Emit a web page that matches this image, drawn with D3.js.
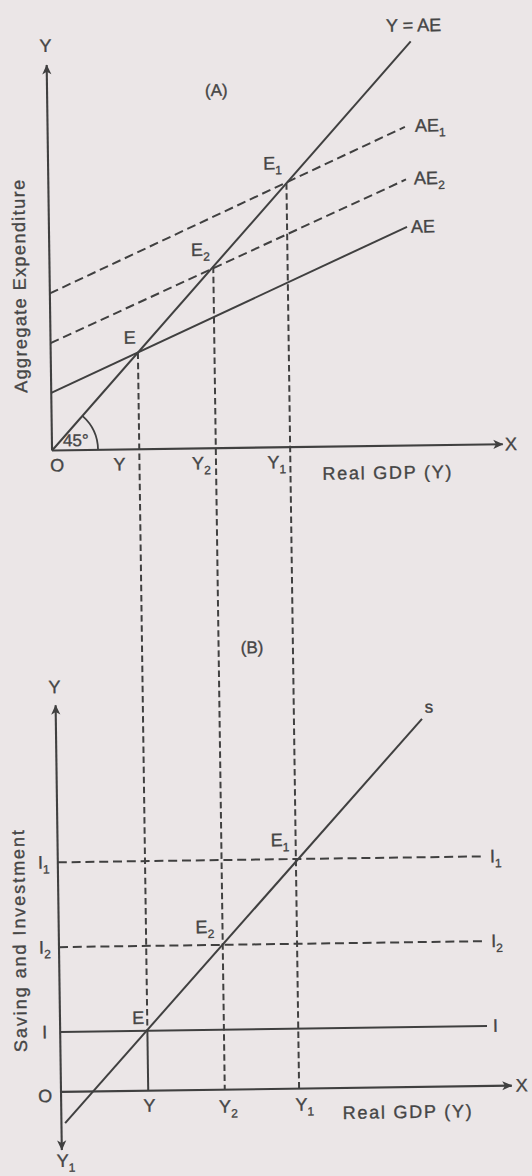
<!DOCTYPE html>
<html>
<head>
<meta charset="utf-8">
<script src="https://cdn.jsdelivr.net/npm/d3@7"></script>
<style>
  html, body { margin: 0; padding: 0; background: #ebe6e7; }
  svg { display: block; }
  text { font-family: "Liberation Sans", Arial, Helvetica, sans-serif; fill: #454545; stroke: #454545; stroke-width: 0.35px; }
</style>
</head>
<body>
<svg id="chart" width="532" height="1176"></svg>
<script>
// ---- data (model units) ----
// Equilibrium real GDP levels: Y, Y2, Y1
const equilibriumGDP = [2.37, 4.45, 6.47];
const levelSubscripts = ["", "2", "1"];

// Panel A: aggregate expenditure schedules (endpoints)
const incomeLine  = [[0, 0], [9.9, 9.9]];        // Y = AE
const aeSchedule  = [[0, 1.41], [9.73, 5.36]];   // AE
const aeSchedule2 = [[0, 2.63], [9.72, 6.52]];   // AE2
const aeSchedule1 = [[0, 3.85], [9.71, 7.81]];   // AE1
const aeLabels = ["AE", "AE", "AE"];
const aeSubscripts = ["", "2", "1"];

// Panel B: saving schedule and investment levels I, I2, I1
const savingSchedule = [[0.1, -0.78], [9.95, 9.2]];
const investmentLevels = [1.5, 3.62, 5.74];
const investmentEnds = [11.6, 11.5, 11.5];

const axisTitleA = "Aggregate Expenditure";
const axisTitleB = "Saving and Investment";
const gdpTitle = "Real GDP (Y)";
const panelTitles = ["(A)", "(B)"];

// ---- scales ----
const xDomainMax = 12.25;
const xs = d3.scaleLinear().domain([0, xDomainMax]).range([54, 504.8]);
const yA = d3.scaleLinear().domain([0, 9.45]).range([447.5, 61.9]);
const yB = d3.scaleLinear().domain([-1.45, 9.67]).range([1147, 702.2]);

const ink = "#404040";
const svg = d3.select("#chart");

const defs = svg.append("defs");
defs.append("marker")
  .attr("id", "arrow")
  .attr("viewBox", "0 -5 10 10")
  .attr("refX", 9.5).attr("refY", 0)
  .attr("markerUnits", "userSpaceOnUse")
  .attr("markerWidth", 11).attr("markerHeight", 10)
  .attr("orient", "auto-start-reverse")
  .append("path")
  .attr("d", "M0,-4.6L10,0L0,4.6L2.6,0Z")
  .attr("fill", ink);

// the whole drawing sits slightly tilted on the page
const g = svg.append("g").attr("transform", "rotate(-0.8,266,588)");

function seg(x1, y1, x2, y2, opts = {}) {
  const l = g.append("line")
    .attr("x1", x1).attr("y1", y1).attr("x2", x2).attr("y2", y2)
    .attr("stroke", ink).attr("stroke-width", opts.w || 2);
  if (opts.dash) l.attr("stroke-dasharray", opts.dash);
  if (opts.end) l.attr("marker-end", "url(#arrow)");
  if (opts.start) l.attr("marker-start", "url(#arrow)");
  return l;
}

function label(x, y, main, sub, anchor, size) {
  const t = g.append("text")
    .attr("x", x).attr("y", y)
    .attr("text-anchor", anchor || "start")
    .attr("font-size", size || 18);
  t.append("tspan").text(main);
  if (sub) t.append("tspan").attr("font-size", 12).attr("dy", 5).text(sub);
  return t;
}

const lineA = d3.line().x(d => xs(d[0])).y(d => yA(d[1]));
const lineB = d3.line().x(d => xs(d[0])).y(d => yB(d[1]));

const ox = xs(0);
const oyA = yA(0);
const oyB = yB(0);
const AE_DASH = "9,4.8";
const DROP_DASH = "6.5,3.6";

// ================= Panel A =================
seg(ox, oyA, xs(xDomainMax), oyA, { w: 2.1, end: true });
seg(ox, oyA, ox, yA(9.45), { w: 2.1, end: true });

g.append("path").attr("d", lineA(incomeLine))
  .attr("fill", "none").attr("stroke", ink).attr("stroke-width", 2);
g.append("path").attr("d", lineA(aeSchedule))
  .attr("fill", "none").attr("stroke", ink).attr("stroke-width", 2);
[aeSchedule2, aeSchedule1].forEach(s => {
  g.append("path").attr("d", lineA(s))
    .attr("fill", "none").attr("stroke", ink).attr("stroke-width", 2)
    .attr("stroke-dasharray", AE_DASH);
});

// 45 degree arc at the origin
const slopeAngle = Math.atan2(yA(0) - yA(1), xs(1) - xs(0));
const arc = d3.path();
arc.arc(ox, oyA, 46, -slopeAngle, 0);
g.append("path").attr("d", arc.toString())
  .attr("fill", "none").attr("stroke", ink).attr("stroke-width", 1.8);

// drop lines from the equilibrium points down to panel B
equilibriumGDP.forEach((q, i) => {
  const x = xs(q);
  if (i === 0) {
    seg(x, yA(q), x, yB(investmentLevels[0]), { dash: DROP_DASH });
    seg(x, yB(investmentLevels[0]), x, oyB, { w: 2 });
  } else {
    seg(x, yA(q), x, oyB, { dash: DROP_DASH });
  }
});

// panel A text
label(ox - 1, yA(9.45) - 13, "Y", "", "middle");
label(xs(xDomainMax) + 2, oyA + 6, "X", "", "start");
label(ox + 5, oyA + 21, "O", "", "middle");
label(ox + 11, oyA - 4, "45°", "", "start", 17);
label(xs(4.6), yA(8.63), panelTitles[0], "", "middle", 17);

label(xs(equilibriumGDP[0]) - 20, oyA + 21, "Y", levelSubscripts[0], "middle");
label(xs(equilibriumGDP[1]) - 24, oyA + 21, "Y", levelSubscripts[1], "start");
label(xs(equilibriumGDP[2]) - 23, oyA + 21, "Y", levelSubscripts[2], "start");

label(xs(equilibriumGDP[0]) - 8, yA(equilibriumGDP[0]) - 9, "E", levelSubscripts[0], "middle");
label(xs(equilibriumGDP[1]) - 22, yA(equilibriumGDP[1]) - 11, "E", levelSubscripts[1], "start");
label(xs(equilibriumGDP[2]) - 23, yA(equilibriumGDP[2]) - 14, "E", levelSubscripts[2], "start");

const endOf = s => s[s.length - 1];
label(xs(endOf(incomeLine)[0]) + 3, yA(endOf(incomeLine)[1]) - 10, "Y = AE", "", "middle");
label(xs(endOf(aeSchedule1)[0]) + 10, yA(endOf(aeSchedule1)[1]) + 5, aeLabels[2], aeSubscripts[2]);
label(xs(endOf(aeSchedule2)[0]) + 8, yA(endOf(aeSchedule2)[1]) + 5, aeLabels[1], aeSubscripts[1]);
label(xs(endOf(aeSchedule)[0]) + 4, yA(endOf(aeSchedule)[1]) + 6, aeLabels[0], aeSubscripts[0]);

label(xs(9.09), oyA + 33, gdpTitle, "", "middle").attr("textLength", 129);

g.append("text")
  .attr("transform", "translate(30,283) rotate(-90)")
  .attr("text-anchor", "middle").attr("font-size", 18)
  .attr("textLength", 213)
  .text(axisTitleA);

// ================= Panel B =================
seg(ox, oyB, xs(xDomainMax), oyB, { w: 2.1, end: true });
seg(ox, yB(-1.45), ox, yB(9.67), { w: 2.1, end: true, start: true });

investmentLevels.forEach((v, i) => {
  seg(ox, yB(v), xs(investmentEnds[i]), yB(v), i === 0 ? { w: 2 } : { dash: AE_DASH });
});

g.append("path").attr("d", lineB(savingSchedule))
  .attr("fill", "none").attr("stroke", ink).attr("stroke-width", 2);

// panel B text
label(ox - 1, yB(9.67) - 12, "Y", "", "middle");
label(xs(5.36), yB(10.9), panelTitles[1], "", "middle", 17);
label(ox - 16, oyB + 10, "O", "", "middle");
label(xs(xDomainMax) + 4, oyB + 6, "X", "", "start");
label(ox + 4, yB(-1.45) + 17, "Y", "1", "middle");

label(ox - 15.5, yB(investmentLevels[0]) + 6, "I", levelSubscripts[0], "middle");
label(ox - 20, yB(investmentLevels[1]) + 6, "I", levelSubscripts[1], "start");
label(ox - 20, yB(investmentLevels[2]) + 6, "I", levelSubscripts[2], "start");

label(xs(investmentEnds[0]) + 6, yB(investmentLevels[0]) + 6, "I", levelSubscripts[0], "start");
label(xs(investmentEnds[1]) + 9, yB(investmentLevels[1]) + 6, "I", levelSubscripts[1], "start");
label(xs(investmentEnds[2]) + 9, yB(investmentLevels[2]) + 6, "I", levelSubscripts[2], "start");

label(xs(equilibriumGDP[0]) - 3, yB(investmentLevels[0]) - 7, "E", levelSubscripts[0], "end");
label(xs(equilibriumGDP[1]) - 27, yB(investmentLevels[1]) - 12, "E", levelSubscripts[1], "start");
label(xs(equilibriumGDP[2]) - 25, yB(investmentLevels[2]) - 13, "E", levelSubscripts[2], "start");

label(xs(equilibriumGDP[0]) + 1, oyB + 21, "Y", levelSubscripts[0], "middle");
label(xs(equilibriumGDP[1]) - 6, oyB + 23, "Y", levelSubscripts[1], "start");
label(xs(equilibriumGDP[2]) - 4, oyB + 22, "Y", levelSubscripts[2], "start");

label(xs(endOf(savingSchedule)[0]) + 7, yB(endOf(savingSchedule)[1]) - 6, "s", "", "middle", 17);

label(xs(9.4), oyB + 31, gdpTitle, "", "middle").attr("textLength", 129);

g.append("text")
  .attr("transform", "translate(20.6,937.6) rotate(-90)")
  .attr("text-anchor", "middle").attr("font-size", 18)
  .attr("textLength", 222)
  .text(axisTitleB);
</script>
</body>
</html>
